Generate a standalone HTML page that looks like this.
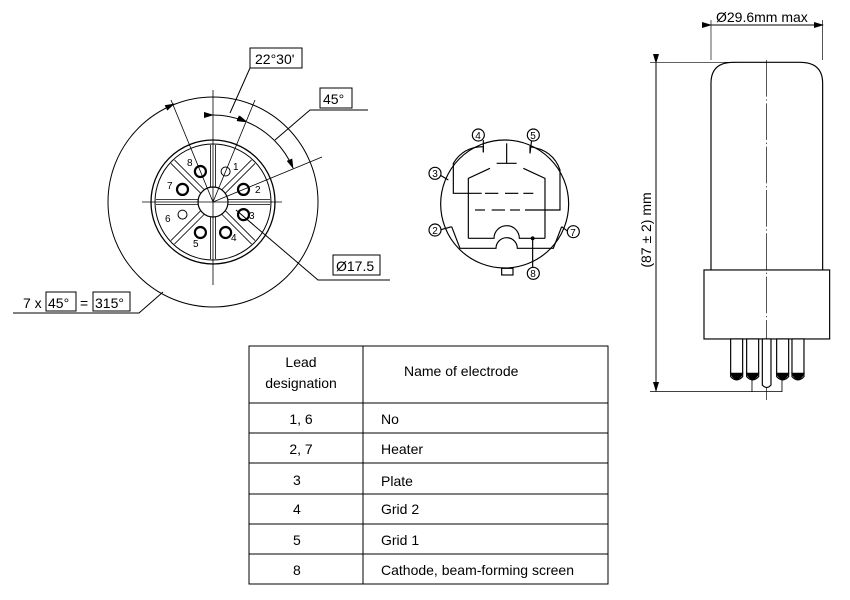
<!DOCTYPE html>
<html><head><meta charset="utf-8"><style>
body{margin:0;background:#fff}
svg{display:block;font-family:"Liberation Sans",Arial,sans-serif}
</style></head><body>
<svg width="850" height="600" viewBox="0 0 850 600" xmlns="http://www.w3.org/2000/svg">
<defs>
<marker id="ar" markerWidth="10" markerHeight="6" refX="9" refY="3" orient="auto" markerUnits="userSpaceOnUse"><path d="M0,0 L10,3 L0,6 z" fill="#000"/></marker>
</defs>
<g fill="none" stroke="#000" stroke-width="1">
<!-- base view -->
<circle cx="213" cy="202" r="105"/>
<circle cx="213" cy="202" r="62" stroke-width="1.3"/>
<circle cx="213" cy="202" r="58"/>
<circle cx="213" cy="202" r="15" stroke-width="1.2"/>
<line x1="213" y1="90" x2="213" y2="285" stroke-width="0.8"/>
<line x1="142" y1="202" x2="282" y2="202" stroke-width="0.8"/>
<g stroke-width="0.8">
<line x1="215.5" y1="145" x2="215.5" y2="187"/><line x1="210.5" y1="145" x2="210.5" y2="187"/>
<line x1="215.5" y1="217" x2="215.5" y2="259"/><line x1="210.5" y1="217" x2="210.5" y2="259"/>
<line x1="156" y1="199.5" x2="198" y2="199.5"/><line x1="156" y1="204.5" x2="198" y2="204.5"/>
<line x1="228" y1="199.5" x2="270" y2="199.5"/><line x1="228" y1="204.5" x2="270" y2="204.5"/>
<g transform="rotate(45 213 202)">
<line x1="215.5" y1="145" x2="215.5" y2="187"/><line x1="210.5" y1="145" x2="210.5" y2="187"/>
<line x1="215.5" y1="217" x2="215.5" y2="259"/><line x1="210.5" y1="217" x2="210.5" y2="259"/>
<line x1="156" y1="199.5" x2="198" y2="199.5"/><line x1="156" y1="204.5" x2="198" y2="204.5"/>
<line x1="228" y1="199.5" x2="270" y2="199.5"/><line x1="228" y1="204.5" x2="270" y2="204.5"/>
</g></g>
<line x1="213" y1="202" x2="255" y2="100" stroke-width="0.8"/>
<line x1="213" y1="202" x2="171" y2="100" stroke-width="0.8"/>
<line x1="213" y1="202" x2="322" y2="157" stroke-width="0.8"/>
<path d="M213,115 A87,87 0 0 1 246,121.6" marker-start="url(#ar)" marker-end="url(#ar)"/>
<path d="M247,122 A87,87 0 0 1 293,168" marker-start="url(#ar)" marker-end="url(#ar)"/>
<path d="M172,105 A106,106 0 0 1 174,104" marker-end="url(#ar)"/>
<!-- pins -->
<g stroke-width="2.2">
<circle cx="243.5" cy="189.4" r="5.5"/><circle cx="243.5" cy="214.6" r="5.5"/>
<circle cx="225.6" cy="232.5" r="5.5"/><circle cx="200.4" cy="232.5" r="5.5"/>
<circle cx="182.5" cy="189.4" r="5.5"/><circle cx="200.4" cy="171.5" r="5.5"/>
</g>
<circle cx="225.6" cy="171.5" r="4.5"/><circle cx="182.5" cy="214.6" r="4.5"/>
<!-- leaders -->
<rect x="250" y="48" width="52" height="20"/>
<line x1="250" y1="68" x2="230" y2="113"/>
<rect x="320" y="88" width="32" height="20"/>
<polyline points="368,110 310,110 275,140"/>
<rect x="333" y="255" width="47" height="20"/>
<polyline points="390,280 318,280 236,210"/>
<rect x="46" y="292" width="30" height="19"/>
<rect x="93" y="292" width="37" height="19"/>
<polyline points="13,313 139,313 163,292"/>
</g>
<g font-size="10" fill="#000">
<text x="233" y="170">1</text><text x="255" y="193">2</text><text x="249" y="219">3</text>
<text x="231" y="241">4</text><text x="193" y="247">5</text><text x="165" y="222">6</text>
<text x="167" y="189">7</text><text x="187" y="166">8</text>
</g>
<g font-size="14" fill="#000">
<text x="255" y="64">22°30'</text>
<text x="323" y="104">45°</text>
<text x="336" y="271">Ø17.5</text>
<text x="23" y="308">7 x</text><text x="48" y="308">45°</text><text x="80" y="308">=</text><text x="95" y="308">315°</text>
</g>

<!-- middle symbol -->
<g transform="translate(420,120) scale(0.3333)" fill="none" stroke="#000" stroke-width="3.5">
<circle cx="254" cy="252" r="192"/>
<path d="M190,97 L190,80 Q130,80 100,130 L100,220 L185,220"/>
<path d="M330,100 L330,80 Q400,90 420,150 L420,270 L315,270"/>
<line x1="195" y1="220" x2="235" y2="220"/><line x1="255" y1="220" x2="295" y2="220"/><line x1="310" y1="220" x2="340" y2="220"/>
<line x1="165" y1="270" x2="195" y2="270"/><line x1="215" y1="270" x2="255" y2="270"/><line x1="270" y1="270" x2="300" y2="270"/>
<line x1="260" y1="70" x2="260" y2="130"/><line x1="230" y1="130" x2="290" y2="130"/>
<polyline points="145,355 145,175 210,145"/><polyline points="375,355 375,175 310,145"/>
<path d="M145,355 L222,355 A38,38 0 1 1 298,355 L375,355"/>
<path d="M95,320 L120,385 L228,385 A32,32 0 1 1 292,385 L400,385 L425,320"/>
<circle cx="338" cy="355" r="4" fill="#000"/>
<line x1="338" y1="355" x2="338" y2="445"/>
<line x1="190" y1="60" x2="190" y2="97"/><line x1="335" y1="60" x2="330" y2="100"/>
<line x1="60" y1="165" x2="85" y2="180"/><line x1="60" y1="330" x2="95" y2="320"/><line x1="445" y1="335" x2="425" y2="320"/>
<rect x="245" y="445" width="34" height="20"/>
<g fill="#fff"><circle cx="175" cy="45" r="18"/><circle cx="340" cy="45" r="18"/><circle cx="45" cy="160" r="18"/><circle cx="45" cy="330" r="18"/><circle cx="460" cy="335" r="18"/><circle cx="340" cy="460" r="18"/></g>
</g>
<g font-size="10" fill="#000" text-anchor="middle">
<text x="478" y="139">4</text><text x="533" y="139">5</text><text x="435" y="177">3</text>
<text x="435" y="234">2</text><text x="573" y="236">7</text><text x="533" y="277">8</text>
</g>

<!-- tube -->
<g transform="translate(630,0) scale(0.3333)" fill="none" stroke="#000" stroke-width="3.5">
<path d="M243,810 L243,250 Q243,187 310,187 L510,187 Q578,187 578,250 L578,810"/>
<rect x="222" y="810" width="377" height="207"/>
<g stroke-dasharray="110,8,4,8"><line x1="410" y1="180" x2="410" y2="1205" stroke-width="2"/></g>
<g fill="#fff">
<path d="M302,1017 L302,1130 Q320,1150 338,1130 L338,1017 Z"/>
<path d="M350,1017 L350,1130 Q368,1150 386,1130 L386,1017 Z"/>
<path d="M440,1017 L440,1130 Q458,1150 476,1130 L476,1017 Z"/>
<path d="M486,1017 L486,1130 Q504,1150 522,1130 L522,1017 Z"/>
<path d="M397,1017 L397,1155 Q410,1170 423,1155 L423,1017 Z"/>
</g>
<g fill="#000"><path d="M302,1120 Q320,1155 338,1120 Z"/><path d="M350,1120 Q368,1155 386,1120 Z"/><path d="M440,1120 Q458,1155 476,1120 Z"/><path d="M486,1120 Q504,1155 522,1120 Z"/></g>
<polyline points="366,1140 366,1175 456,1175 456,1140" stroke-width="2.5"/>
<line x1="243" y1="60" x2="243" y2="180" stroke-width="2"/><line x1="578" y1="60" x2="578" y2="180" stroke-width="2"/>
<line x1="60" y1="187" x2="320" y2="187" stroke-width="2"/>
<line x1="60" y1="1175" x2="366" y2="1175" stroke-width="2"/>
</g>
<line x1="711" y1="25" x2="823" y2="25" stroke="#000" marker-start="url(#ar)" marker-end="url(#ar)" transform="" />
<line x1="656" y1="63" x2="656" y2="391" stroke="#000" marker-start="url(#ar)" marker-end="url(#ar)"/>
<text x="716" y="22" font-size="14">Ø29.6mm max</text>
<text transform="translate(651,230) rotate(-90)" font-size="14" text-anchor="middle">(87 ± 2) mm</text>

<!-- table -->
<g fill="none" stroke="#000" stroke-width="1">
<rect x="249" y="346" width="359" height="238"/>
<line x1="363" y1="346" x2="363" y2="584"/>
<line x1="249" y1="403" x2="608" y2="403"/><line x1="249" y1="433" x2="608" y2="433"/>
<line x1="249" y1="463" x2="608" y2="463"/><line x1="249" y1="494" x2="608" y2="494"/>
<line x1="249" y1="524" x2="608" y2="524"/><line x1="249" y1="554" x2="608" y2="554"/>
</g>
<g font-size="14" fill="#000">
<text x="301" y="367" text-anchor="middle">Lead</text>
<text x="301" y="388" text-anchor="middle">designation</text>
<text x="404" y="376">Name of electrode</text>
<text x="301" y="424" text-anchor="middle">1, 6</text><text x="381" y="424">No</text>
<text x="301" y="454" text-anchor="middle">2, 7</text><text x="381" y="454">Heater</text>
<text x="293" y="485">3</text><text x="381" y="486">Plate</text>
<text x="293" y="514">4</text><text x="381" y="514">Grid 2</text>
<text x="293" y="545">5</text><text x="381" y="545">Grid 1</text>
<text x="293" y="575">8</text><text x="381" y="575">Cathode, beam-forming screen</text>
</g>
</svg>
</body></html>
